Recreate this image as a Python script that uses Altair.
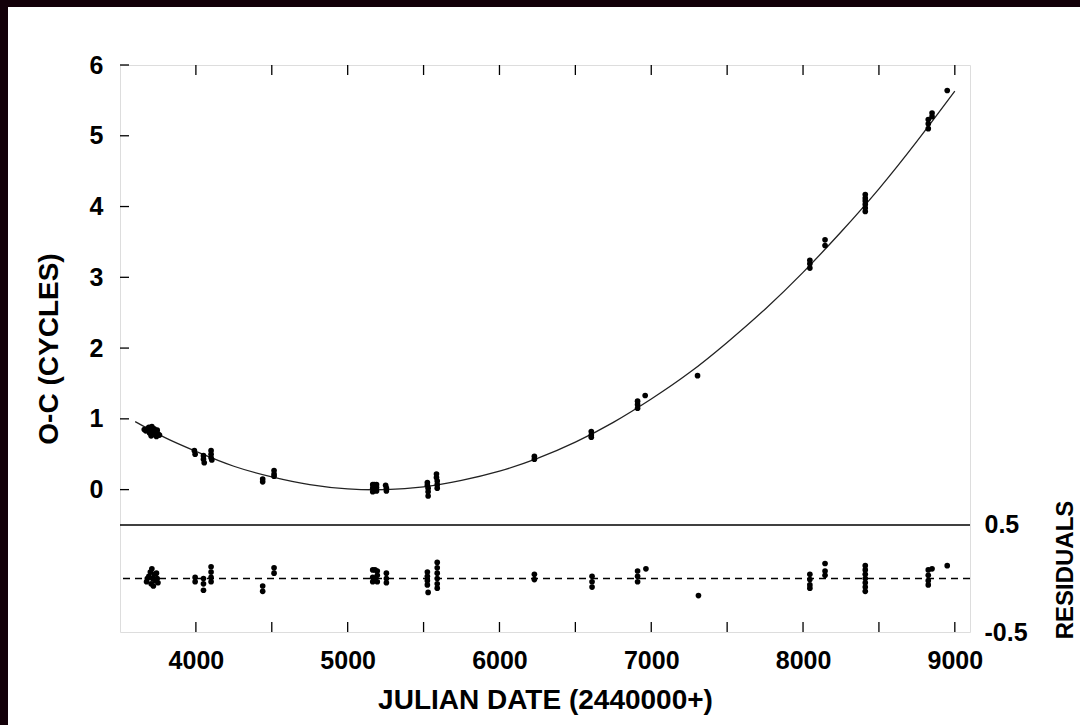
import altair as alt
import pandas as pd

# ---- fitted curve ----
curve_jd = [3600, 3800, 4000, 4250, 4500, 4750, 5000, 5250, 5500, 5750, 6000, 6250,
            6500, 6750, 7000, 7250, 7500, 7750, 8000, 8250, 8500, 8750, 9000]
curve_oc = [0.96, 0.73, 0.54, 0.33, 0.18, 0.07, 0.01, 0.00, 0.04, 0.13, 0.26, 0.44,
            0.67, 0.95, 1.28, 1.65, 2.08, 2.55, 3.07, 3.64, 4.25, 4.92, 5.63]

# ---- O-C observations ----
obs_jd = [3660, 3670, 3680, 3690, 3695, 3700, 3705, 3710, 3715, 3720, 3725, 3730, 3740, 3745, 3750, 3760,
          3990, 3995, 4050, 4050, 4055, 4100, 4100, 4100, 4105,
          4440, 4440, 4515, 4515, 4515,
          5165, 5165, 5165, 5175, 5175, 5190, 5190, 5190, 5250, 5255, 5255,
          5525, 5525, 5530, 5530, 5530, 5585, 5585, 5590, 5590, 5590,
          6230, 6230, 6605, 6605, 6605, 6910, 6910, 6910, 6960, 7305,
          8045, 8045, 8045, 8145, 8145, 8410, 8410, 8410, 8410, 8410, 8410,
          8825, 8825, 8825, 8850, 8850, 8950]
obs_oc = [0.85, 0.83, 0.86, 0.88, 0.80, 0.84, 0.76, 0.89, 0.82, 0.78, 0.86, 0.81, 0.75, 0.84, 0.79, 0.77,
          0.55, 0.50, 0.48, 0.43, 0.38, 0.55, 0.50, 0.45, 0.42,
          0.15, 0.11, 0.27, 0.22, 0.19,
          0.07, 0.02, -0.03, 0.07, 0.00, 0.07, 0.03, -0.02, 0.06, 0.02, -0.02,
          0.10, 0.06, 0.02, -0.03, -0.09, 0.22, 0.17, 0.12, 0.07, 0.02,
          0.47, 0.43, 0.82, 0.77, 0.74, 1.25, 1.20, 1.15, 1.33, 1.61,
          3.24, 3.19, 3.13, 3.53, 3.45, 4.17, 4.12, 4.08, 4.03, 3.98, 3.93,
          5.23, 5.17, 5.10, 5.32, 5.27, 5.64]

# ---- residuals ----
res_jd = [3675, 3680, 3690, 3700, 3705, 3710, 3715, 3720, 3725, 3730, 3740, 3745, 3750,
          3995, 3995, 4050, 4050, 4050, 4100, 4100, 4100, 4100,
          4440, 4440, 4515, 4515,
          5165, 5165, 5165, 5180, 5180, 5195, 5195, 5195, 5255, 5255, 5255,
          5525, 5525, 5525, 5525, 5530, 5590, 5590, 5590, 5590, 5590, 5590,
          6230, 6230, 6610, 6610, 6610, 6910, 6910, 6910, 6965, 7311,
          8045, 8045, 8045, 8045, 8145, 8145, 8145,
          8410, 8410, 8410, 8410, 8410, 8410, 8410,
          8825, 8825, 8825, 8825, 8850, 8950]
res_r = [-0.03, 0.00, 0.02, 0.06, -0.05, 0.09, 0.00, -0.07, 0.04, -0.02, 0.05, 0.00, -0.04,
         0.01, -0.03, 0.00, -0.05, -0.11, 0.11, 0.06, 0.01, -0.03,
         -0.07, -0.12, 0.10, 0.05,
         0.08, 0.01, -0.03, 0.08, 0.00, 0.07, 0.03, -0.03, 0.05, 0.00, -0.04,
         0.06, 0.02, -0.02, -0.06, -0.13, 0.15, 0.10, 0.05, 0.00, -0.05, -0.09,
         0.04, -0.01, 0.02, -0.03, -0.08, 0.07, 0.02, -0.03, 0.09, -0.16,
         0.04, -0.01, -0.06, -0.09, 0.14, 0.07, 0.03,
         0.12, 0.08, 0.04, 0.00, -0.04, -0.08, -0.12,
         0.08, 0.03, -0.02, -0.06, 0.09, 0.12]

x_ticks = [4000, 4500, 5000, 5500, 6000, 6500, 7000, 7500, 8000, 8500, 9000]
x_labels = [4000, 5000, 6000, 7000, 8000, 9000]
y_ticks = [0, 1, 2, 3, 4, 5, 6]
res_labels = [-0.5, 0.5]

FONT = "Liberation Sans"
W, H = 850, 567

xscale = alt.Scale(domain=[3500, 9100], nice=False, zero=False)
xaxis = alt.Axis(values=x_labels, format="d", ticks=False, domain=False, grid=False,
                 labelFont=FONT, labelFontSize=25, labelFontWeight="bold", labelColor="black",
                 labelPadding=16, labelFlush=False, labelOverlap=False,
                 title="JULIAN DATE (2440000+)", titleFont=FONT, titleFontSize=28,
                 titleFontWeight="bold", titleColor="black", titlePadding=13)
X = alt.X("jd:Q", scale=xscale, axis=xaxis)

ytop_scale = alt.Scale(domain=[-2.012, 6], nice=False, zero=False)
ytop_axis = alt.Axis(orient="left", values=y_ticks, ticks=False, domain=False, grid=False,
                     labelFont=FONT, labelFontSize=25, labelFontWeight="bold", labelColor="black",
                     labelPadding=17, labelFlush=False, labelOverlap=False,
                     title="O-C (CYCLES)", titleFont=FONT, titleFontSize=28,
                     titleFontWeight="bold", titleColor="black", titlePadding=26)
YT = alt.Y("oc:Q", scale=ytop_scale, axis=ytop_axis)

yres_scale = alt.Scale(domain=[-0.5, 4.799], nice=False, zero=False)
yres_axis = alt.Axis(orient="right", values=res_labels, ticks=False, domain=False, grid=False,
                     labelExpr="(datum.value < 0 ? '-' : '') + format(abs(datum.value), '.1f')",
                     labelFont=FONT, labelFontSize=25, labelFontWeight="bold", labelColor="black",
                     labelPadding=14, labelFlush=False, labelOverlap=False, title=None)
YR = alt.Y("r:Q", scale=yres_scale, axis=yres_axis)

curve_df = pd.DataFrame({"jd": curve_jd, "oc": curve_oc})
obs_df = pd.DataFrame({"jd": obs_jd, "oc": obs_oc})
res_df = pd.DataFrame({"jd": res_jd, "r": res_r})
xt_df = pd.DataFrame({"jd": x_ticks})
yt_df = pd.DataFrame({"oc": y_ticks})

curve = alt.Chart(curve_df).mark_line(color="#222222", strokeWidth=1.3, interpolate="natural").encode(x=X, y=YT)
pts = alt.Chart(obs_df).mark_circle(color="black", size=32, opacity=1).encode(x=X, y=YT)
divider = alt.Chart(pd.DataFrame({"oc": [-0.5]})).mark_rule(color="black", strokeWidth=1.6).encode(y=YT)
left_ticks = alt.Chart(yt_df).mark_rule(color="black", strokeWidth=1.3).encode(
    y=YT, x=alt.value(0), x2=alt.value(9))
top_group = alt.layer(curve, pts, divider, left_ticks)

res_pts = alt.Chart(res_df).mark_circle(color="black", size=32, opacity=1).encode(x=X, y=YR)
zero_line = alt.Chart(pd.DataFrame({"r": [0]})).mark_rule(
    color="black", strokeWidth=1.3, strokeDash=[7, 5]).encode(y=YR)
res_group = alt.layer(zero_line, res_pts)

top_ticks = alt.Chart(xt_df).mark_rule(color="black", strokeWidth=1.3).encode(
    x=X, y=alt.value(0), y2=alt.value(10))
bot_ticks = alt.Chart(xt_df).mark_rule(color="black", strokeWidth=1.3).encode(
    x=X, y=alt.value(H - 10), y2=alt.value(H))

res_title = alt.Chart(pd.DataFrame({"t": ["RESIDUALS"]})).mark_text(
    angle=270, font=FONT, fontSize=24, fontWeight="bold", color="black",
    align="center", baseline="middle").encode(x=alt.value(946), y=alt.value(505), text="t:N")

border_c = "#130009"
border_left = alt.Chart(pd.DataFrame({"a": [0]})).mark_rect(color=border_c).encode(
    x=alt.value(-120), x2=alt.value(-112), y=alt.value(-65), y2=alt.value(H + 93))
border_top = alt.Chart(pd.DataFrame({"a": [0]})).mark_rect(color=border_c).encode(
    x=alt.value(-120), x2=alt.value(W + 110), y=alt.value(-65), y2=alt.value(-58))

deco = alt.layer(top_ticks, bot_ticks, res_title, border_left, border_top)

chart = alt.layer(top_group, res_group, deco).resolve_scale(y="independent").properties(
    width=W, height=H,
    autosize=alt.AutoSizeParams(type="none"),
    padding={"left": 120, "top": 65, "right": 110, "bottom": 93},
).configure_view(stroke="black", strokeWidth=1.8).configure(background="white")

chart.save("out.html", embed_options={"renderer": "svg", "actions": False})
